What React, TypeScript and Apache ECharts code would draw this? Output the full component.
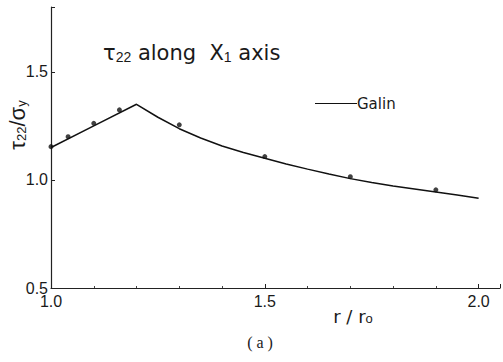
import React, { useEffect, useRef } from "react";
import * as echarts from "echarts";

// Galin solution curve (r/r0, tau22/sigma_y)
const curveR = [1.0, 1.1, 1.2, 1.25, 1.3, 1.35, 1.4, 1.45, 1.5, 1.55, 1.6, 1.65, 1.7, 1.75, 1.8, 1.85, 1.9, 1.95, 2.0];
const curveV = [1.15, 1.25, 1.35, 1.29, 1.237, 1.194, 1.157, 1.127, 1.1, 1.074, 1.05, 1.027, 1.006, 0.988, 0.972, 0.958, 0.944, 0.93, 0.915];

// numerical points
const pointR = [1.0, 1.04, 1.1, 1.16, 1.3, 1.5, 1.7, 1.9];
const pointV = [1.154, 1.2, 1.262, 1.324, 1.255, 1.108, 1.015, 0.954];

const xTicks = [1.0, 1.5, 2.0];
const yTicks = [0.5, 1.0, 1.5];

const SANS = "'Liberation Sans Narrow', 'Liberation Sans', Arial, sans-serif";
const SANS2 = "'Liberation Sans', Arial, sans-serif";
const DEJA = "'DejaVu Sans', 'Liberation Sans', sans-serif";

function isTick(v: number, list: number[]) {
  return list.some((t) => Math.abs(t - v) < 1e-6);
}

export default function App() {
  const ref = useRef<HTMLDivElement>(null);
  useEffect(() => {
    if (!ref.current) return;
    const chart = echarts.init(ref.current, undefined, { renderer: "svg" });
    const sub = { fontSize: 12, verticalAlign: "bottom" as const, fontFamily: SANS2, fill: "#1a1a1a" };
    chart.setOption({
      animation: false,
      backgroundColor: "#ffffff",
      grid: { left: 51, right: 1.5, top: 7, bottom: 74 },
      legend: {
        left: 310,
        top: 91,
        itemWidth: 42,
        itemHeight: 1.4,
        icon: "path://M0,0H40V1H0Z",
        data: [{ name: "Galin" }],
        textStyle: { fontFamily: DEJA, fontSize: 15, color: "#1a1a1a", padding: [0, 0, 0, -5] },
        selectedMode: false,
      },
      xAxis: {
        type: "value",
        min: 1.0,
        max: 2.05,
        interval: 0.5,
        axisLine: { lineStyle: { color: "#222", width: 1.2 } },
        axisTick: { inside: true, length: 4, lineStyle: { color: "#222" } },
        minorTick: { show: true, splitNumber: 5, length: 2, lineStyle: { color: "#444" } },
        splitLine: { show: false },
        axisLabel: {
          fontFamily: SANS,
          fontSize: 16,
          color: "#1a1a1a",
          margin: 5,
          formatter: (v: number) => (isTick(v, xTicks) ? v.toFixed(1) : ""),
        },
      },
      yAxis: {
        type: "value",
        min: 0.5,
        max: 1.8,
        interval: 0.5,
        axisLine: { show: true, lineStyle: { color: "#222", width: 1.2 } },
        axisTick: { show: true, inside: true, length: 4, lineStyle: { color: "#222" } },
        splitLine: { show: false },
        axisLabel: {
          fontFamily: SANS,
          fontSize: 16,
          color: "#1a1a1a",
          margin: 3,
          formatter: (v: number) => (isTick(v, yTicks) ? v.toFixed(1) : ""),
        },
      },
      series: [
        {
          name: "Galin",
          type: "line",
          data: curveR.map((r, i) => [r, curveV[i]]),
          smooth: false,
          symbol: "none",
          lineStyle: { color: "#111", width: 1.5 },
          itemStyle: { color: "#111" },
        },
        {
          name: "points",
          type: "scatter",
          data: pointR.map((r, i) => [r, pointV[i]]),
          symbolSize: 5,
          itemStyle: { color: "#111" },
        },
      ],
      graphic: [
        {
          type: "text",
          x: 17,
          y: 125,
          rotation: Math.PI / 2,
          style: {
            text: "τ{s|22}/σ{s|y}",
            font: `22px ${SANS2}`,
            fill: "#1a1a1a",
            align: "center",
            verticalAlign: "middle",
            rich: { s: { ...sub, fontSize: 13 } },
          },
        },
        {
          type: "text",
          x: 103,
          y: 53,
          style: {
            text: "τ{s|22} along  X{s|1} axis",
            font: `21px ${DEJA}`,
            fill: "#1a1a1a",
            align: "left",
            verticalAlign: "middle",
            rich: { s: { ...sub, fontSize: 14 } },
          },
        },
        {
          type: "text",
          x: 353,
          y: 316,
          style: {
            text: "r / r{s|o}",
            font: `18px ${DEJA}`,
            fill: "#1a1a1a",
            align: "center",
            verticalAlign: "middle",
            rich: { s: { ...sub, fontSize: 13 } },
          },
        },
        {
          type: "text",
          x: 260,
          y: 342,
          style: {
            text: "( a )",
            font: `16px 'Liberation Serif', serif`,
            fill: "#1a1a1a",
            align: "center",
            verticalAlign: "middle",
          },
        },
      ],
    });
    return () => chart.dispose();
  }, []);
  return (
    <div
      ref={ref}
      style={{ position: "fixed", left: 0, top: 0, width: 503, height: 362, background: "#fff" }}
    />
  );
}
